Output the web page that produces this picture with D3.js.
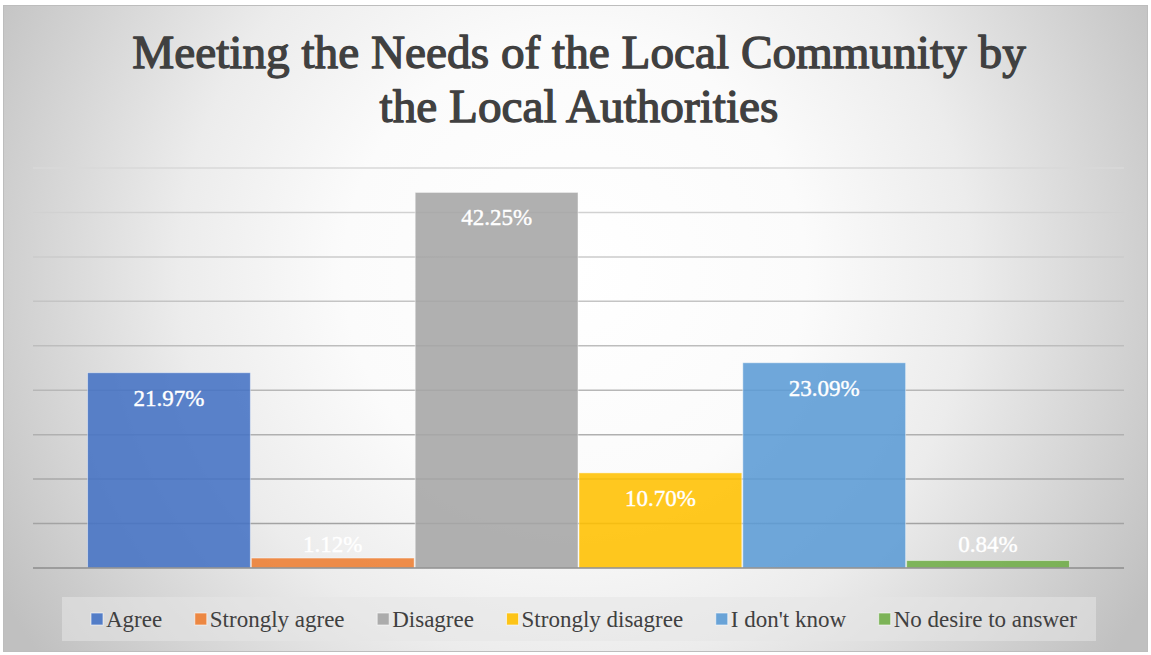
<!DOCTYPE html>
<html>
<head>
<meta charset="utf-8">
<script src="https://cdn.jsdelivr.net/npm/d3@7/dist/d3.min.js"></script>
<style>
  html, body { margin: 0; padding: 0; background: #fff; }
  svg { display: block; }
</style>
</head>
<body>
<svg id="chart" width="1151" height="655"></svg>
<script>
// Survey answers: share of respondents per answer
const categories = ["Agree", "Strongly agree", "Disagree", "Strongly disagree", "I don't know", "No desire to answer"];
const values = [21.97, 1.12, 42.25, 10.70, 23.09, 0.84];
const labels = ["21.97%", "1.12%", "42.25%", "10.70%", "23.09%", "0.84%"];
const colors = ["#4472C4", "#ED7D31", "#A5A5A5", "#FFC000", "#5B9BD5", "#70AD47"];
const yTicks = [0, 5, 10, 15, 20, 25, 30, 35, 40, 45];
const titleLines = ["Meeting the Needs of the Local Community by", "the Local Authorities"];

const W = 1151, H = 655;
const svg = d3.select("#chart");
const serif = "'Liberation Serif', 'Times New Roman', serif";

// Radial chart-area background
const defs = svg.append("defs");
const bg = defs.append("radialGradient").attr("id", "bg")
  .attr("gradientUnits", "userSpaceOnUse")
  .attr("cx", 575).attr("cy", 270).attr("r", 660);
[[0, "#ffffff"], [0.35, "#fbfbfb"], [0.6, "#ececec"], [1, "#c0c0c0"]].forEach(([o, c]) =>
  bg.append("stop").attr("offset", o).attr("stop-color", c));

svg.append("rect").attr("x", 3.5).attr("y", 5.5).attr("width", W - 7).attr("height", H - 9)
  .attr("fill", "url(#bg)").attr("stroke", "#bdbdbd").attr("stroke-width", 1);

// Title
const title = svg.append("text").attr("text-anchor", "middle")
  .attr("font-family", serif).attr("fill", "#404040")
  .attr("stroke", "#404040").attr("stroke-width", 1.3).attr("stroke-linejoin", "round");
titleLines.forEach((t, i) => title.append("tspan").attr("x", 579).attr("y", 68 + i * 54).text(t));
let fs = 48;
title.attr("font-size", fs);
const w0 = title.select("tspan").node().getComputedTextLength();
fs = fs * 894 / w0;
title.attr("font-size", fs);

// Scales
const plot = { left: 33, right: 1124, top: 168, bottom: 568 };
const x = d3.scaleBand().domain(categories).range([plot.left, plot.right])
  .paddingInner(0).paddingOuter(0.33);
const y = d3.scaleLinear().domain([0, 45]).range([plot.bottom, plot.top]);
const gridColor = d3.scaleLinear().domain([45, 0]).range(["#d8d8d8", "#9c9c9c"]);

// Gridlines
svg.append("g").selectAll("line").data(yTicks.filter(d => d > 0)).join("line")
  .attr("x1", plot.left).attr("x2", plot.right)
  .attr("y1", d => y(d)).attr("y2", d => y(d))
  .attr("stroke", d => gridColor(d)).attr("stroke-width", 1.5);

// Bars
svg.append("g").selectAll("rect").data(categories).join("rect")
  .attr("x", d => x(d) + 0.5)
  .attr("width", x.bandwidth() - 1)
  .attr("y", (d, i) => y(values[i]))
  .attr("height", (d, i) => y(0) - y(values[i]))
  .attr("fill", (d, i) => colors[i]).attr("fill-opacity", 0.88)
  .attr("stroke", "#ffffff").attr("stroke-opacity", 0.45).attr("stroke-width", 1);

// Category axis line
svg.append("line").attr("x1", plot.left).attr("x2", plot.right)
  .attr("y1", y(0)).attr("y2", y(0))
  .attr("stroke", "#8c8c8c").attr("stroke-width", 1.5);

// Value labels, inside the top end of each bar
svg.append("g").selectAll("text").data(categories).join("text")
  .attr("x", d => x(d) + x.bandwidth() / 2)
  .attr("y", (d, i) => Math.min(y(values[i]) + 33, y(0) - 16.5))
  .attr("text-anchor", "middle")
  .attr("font-family", serif).attr("font-size", 23).attr("fill", "#ffffff")
  .attr("stroke", "#ffffff").attr("stroke-width", 0.4)
  .text((d, i) => labels[i]);

// Legend
const legend = svg.append("g");
legend.append("rect").attr("x", 62).attr("y", 597).attr("width", 1034).attr("height", 44)
  .attr("fill", "#e6e6e6").attr("fill-opacity", 0.55);
const items = legend.selectAll("g.item").data(categories).join("g").attr("class", "item");
items.append("rect").attr("width", 12).attr("height", 12).attr("y", 613)
  .attr("fill", (d, i) => colors[i]).attr("fill-opacity", 0.9)
  .attr("stroke", "#ffffff").attr("stroke-opacity", 0.6);
items.append("text").attr("x", 15).attr("y", 627)
  .attr("font-family", serif).attr("font-size", 23).attr("fill", "#404040")
  .text(d => d);
const span = 986;
const widths = items.nodes().map(n => 15 + d3.select(n).select("text").node().getComputedTextLength());
const gap = (span - d3.sum(widths)) / (widths.length - 1);
let cx = 584 - span / 2;
items.each(function (d, i) {
  d3.select(this).attr("transform", `translate(${cx},0)`);
  cx += widths[i] + gap;
});
</script>
</body>
</html>
